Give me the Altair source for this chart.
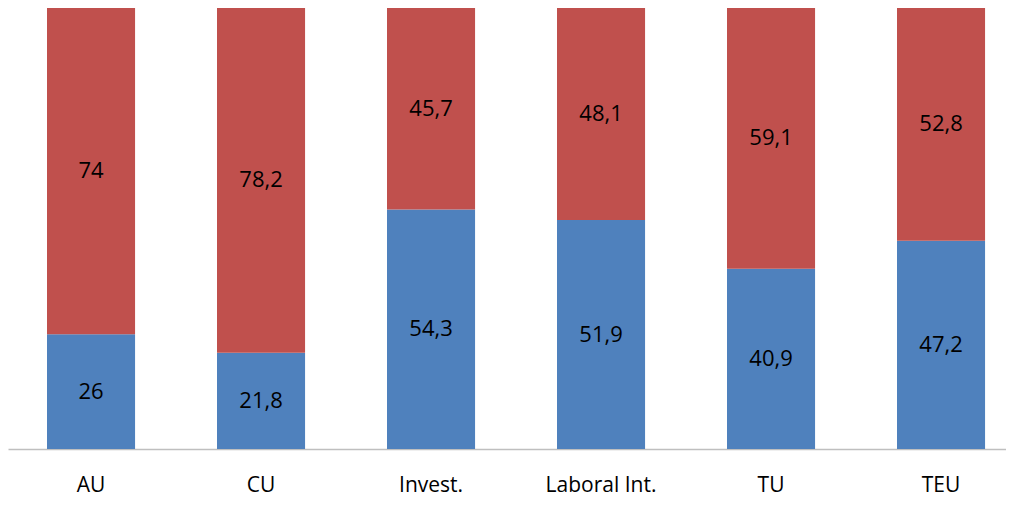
import altair as alt
import pandas as pd

categories = ["AU", "CU", "Invest.", "Laboral Int.", "TU", "TEU"]
blue_values = [26, 21.8, 54.3, 51.9, 40.9, 47.2]
red_values = [74, 78.2, 45.7, 48.1, 59.1, 52.8]
series_names = ["A", "B"]
colors = ["#4F81BD", "#C0504D"]

rows = []
for c, b, r in zip(categories, blue_values, red_values):
    rows.append({"cat": c, "series": series_names[0], "v": b, "y0": 0, "y1": b})
    rows.append({"cat": c, "series": series_names[1], "v": r, "y0": b, "y1": b + r})
df = pd.DataFrame(rows)
df["mid"] = (df["y0"] + df["y1"]) / 2
df["label"] = df["v"].map(lambda x: (f"{x:g}").replace(".", ","))

font = "Open Sans"

x = alt.X(
    "cat:N",
    sort=categories,
    title=None,
    scale=alt.Scale(paddingInner=0.482, paddingOuter=0.1763, align=0.6507),
    axis=alt.Axis(
        labelAngle=0,
        ticks=False,
        tickSize=0,
        labelPadding=36,
        labelBaseline="middle",
        labelFont=font,
        labelFontSize=21,
        labelColor="#000000",
        domainColor="#BFBFBF",
        domainWidth=1.5,
        grid=False,
    ),
)
yscale = alt.Scale(domain=[0, 100], nice=False, zero=True)

bars = alt.Chart(df).mark_bar().encode(
    x=x,
    y=alt.Y("y0:Q", scale=yscale, axis=None),
    y2="y1:Q",
    color=alt.Color("series:N", scale=alt.Scale(domain=series_names, range=colors), legend=None),
)

texts = alt.Chart(df).mark_text(font=font, fontSize=22, color="#000000", baseline="middle").encode(
    x=alt.X("cat:N", sort=categories),
    y=alt.Y("mid:Q", scale=yscale),
    text="label:N",
)

chart = (
    alt.layer(bars, texts)
    .properties(
        width=998,
        height=441,
        autosize=alt.AutoSizeParams(type="none"),
        padding={"left": 0, "top": 0, "right": 0, "bottom": 49},
    )
    .configure_view(stroke=None)
)

chart.save("out.html", embed_options={"renderer": "svg", "actions": False})
